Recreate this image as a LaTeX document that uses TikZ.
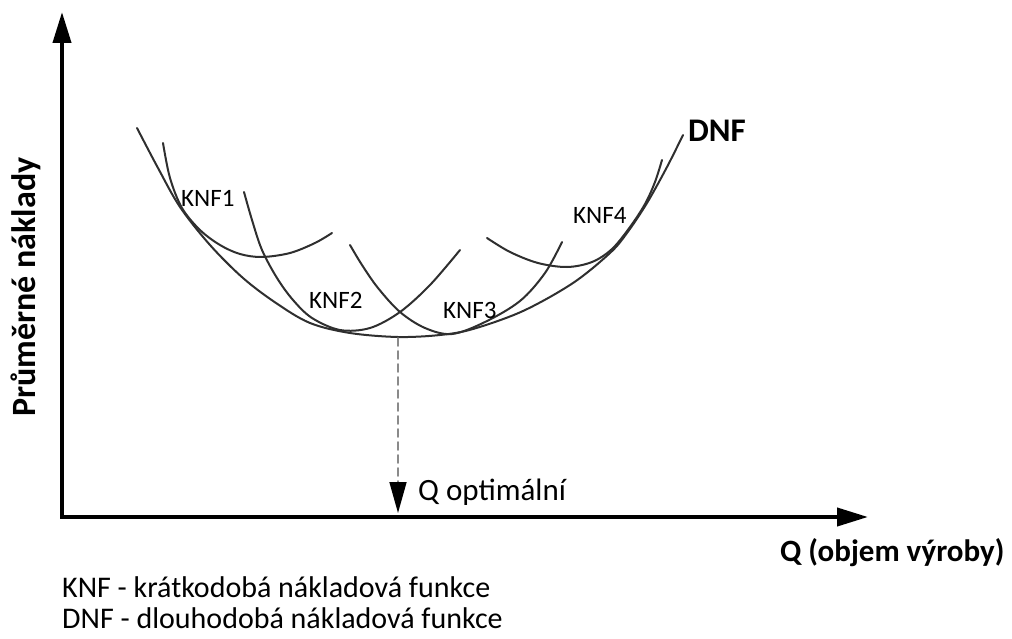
\documentclass[tikz,border=0pt]{standalone}
\usepackage{fontspec}
\setmainfont{Carlito}
\usetikzlibrary{arrows.meta}
\definecolor{cvInk}{HTML}{000000}
\definecolor{cvCurve}{HTML}{2F2F2F}
\definecolor{cvDash}{HTML}{8A8A8A}
\tikzset{
 cost/.style={line cap=round,line join=round,text=cvInk},
 axis/.style={draw=cvInk,line width=4pt,line cap=butt,line join=miter},
 curve/.style={draw=cvCurve,line width=2pt},
 guide/.style={draw=cvDash,line width=1.6pt,dash pattern=on 8pt off 5pt,
   -{Triangle[length=31pt,width=17pt,color=cvInk]}},
 knf/.style={font=\fontsize{25}{30}\selectfont,anchor=base west,inner sep=0pt},
 axlabel/.style={font=\fontsize{31}{36}\selectfont\bfseries,anchor=base west,inner sep=0pt},
 note/.style={font=\fontsize{30}{32}\selectfont,anchor=base west,inner sep=0pt}
}

\begin{document}
\begin{tikzpicture}[cost,x=1pt,y=-1pt]
 \useasboundingbox (0,0) rectangle (1012,639);
 % axes
 \coordinate (origin) at (62,517);
 \coordinate (ytip) at (62,12);
 \coordinate (xtip) at (868,517);
 \draw[axis,{Triangle[length=31pt,width=18pt]}-{Triangle[length=31pt,width=18pt]}]
   (ytip)--(origin)--(xtip);
 \node[axlabel,font=\fontsize{34}{38}\selectfont\bfseries,rotate=90] (ylab) at (35,417) {Průměrné náklady};
 \node[axlabel] (xlab) at (780,561) {Q (objem výroby)};
 % long-run curve
 \draw[curve] plot[smooth,tension=.55] coordinates {(137,128) (158,168) (180,207) (210,245)
   (243,278) (276,303) (310,323) (350,333) (398,337) (440,335) (473,329) (523,311)
   (573,283) (610,253) (627,233) (647,203) (667,167) (683,135)};
 % short-run curves
 \draw[curve] plot[smooth,tension=.55] coordinates {(163,143) (170,178) (182,208) (200,230)
   (220,245) (240,254) (262,257) (290,253) (315,243) (332,233)};
 \draw[curve] plot[smooth,tension=.55] coordinates {(244,192) (252,220) (262,250) (277,278)
   (293,300) (312,318) (340,330) (370,328) (400,312) (430,285) (460,250)};
 \draw[curve] plot[smooth,tension=.55] coordinates {(350,245) (362,265) (378,288) (400,312)
   (425,328) (452,334) (485,322) (520,301) (545,273) (562,242)};
 \draw[curve] plot[smooth,tension=.55] coordinates {(487,238) (510,252) (538,263) (567,267)
   (592,262) (612,249) (630,227) (645,204) (655,182) (662,160)};
 \node[knf] (k1) at (181,207) {KNF1};
 \node[knf] (k2) at (309,308) {KNF2};
 \node[knf] (k3) at (443,318) {KNF3};
 \node[knf] (k4) at (573,224) {KNF4};
 \node[axlabel,font=\fontsize{33}{36}\selectfont\bfseries] (dnf) at (688,142) {DNF};
 % optimum
 \coordinate (qmin) at (398,338);
 \coordinate (qopt) at (398,513);
 \draw[guide] (qmin)--(qopt);
 \node[note,font=\fontsize{31}{34}\selectfont] (qlab) at (418,500) {Q optimální};
 % legend
 \node[note] (leg1) at (62,597) {KNF - krátkodobá nákladová funkce};
 \node[note] (leg2) at (62,628) {DNF - dlouhodobá nákladová funkce};
\end{tikzpicture}
\end{document}
